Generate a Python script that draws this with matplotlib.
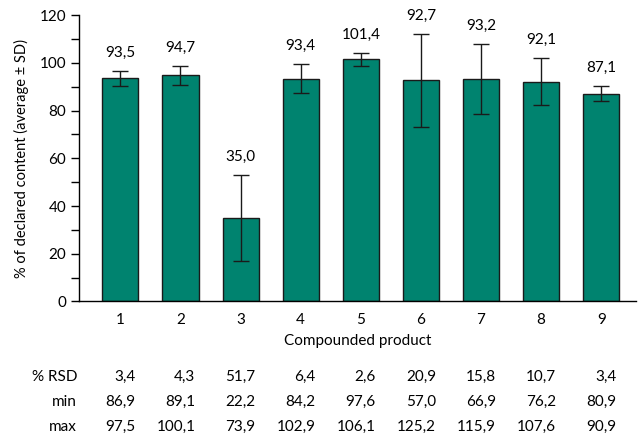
import numpy as np
import matplotlib
matplotlib.use("Agg")
import matplotlib.pyplot as plt
from matplotlib.ticker import MultipleLocator
from matplotlib.transforms import blended_transform_factory

plt.rcParams["font.family"] = ["Lato", "DejaVu Sans"]

# ---- data ----
products = ["1", "2", "3", "4", "5", "6", "7", "8", "9"]
mean = [93.5, 94.7, 35.0, 93.4, 101.4, 92.7, 93.2, 92.1, 87.1]
sd = [3.2, 4.1, 18.1, 6.0, 2.6, 19.4, 14.7, 9.9, 3.0]
rsd_labels = ["3,4", "4,3", "51,7", "6,4", "2,6", "20,9", "15,8", "10,7", "3,4"]
min_labels = ["86,9", "89,1", "22,2", "84,2", "97,6", "57,0", "66,9", "76,2", "80,9"]
max_labels = ["97,5", "100,1", "73,9", "102,9", "106,1", "125,2", "115,9", "107,6", "90,9"]
row_names = ["% RSD", "min", "max"]

BAR = "#00836f"
FS = 11

fig = plt.figure(figsize=(6.38, 4.44), dpi=100)
ax = fig.add_axes([0.1246, 0.321, 0.8724, 0.645])

x = np.arange(1, len(products) + 1)
ax.bar(x, mean, width=0.6, color=BAR, edgecolor="#1a1a1a", linewidth=1.0, zorder=2)
ax.errorbar(x, mean, yerr=sd, fmt="none", ecolor="#1a1a1a", elinewidth=1.0,
            capsize=6, capthick=1.0, zorder=3)

for xi, m, s in zip(x, mean, sd):
    ax.annotate(f"{m:.1f}".replace(".", ","), (xi, m + s), xytext=(0, 8),
                textcoords="offset points", ha="center", va="bottom", fontsize=FS)

ax.set_xlim(0.32, 9.58)
ax.set_ylim(0, 120)
ax.yaxis.set_major_locator(MultipleLocator(20))
ax.yaxis.set_minor_locator(MultipleLocator(10))
ax.tick_params(axis="y", which="both", direction="out", length=6, width=1, labelsize=FS)
ax.set_xticks(x)
ax.set_xticklabels(products)
ax.tick_params(axis="x", length=0, pad=8, labelsize=FS)
for sp in ["top", "right"]:
    ax.spines[sp].set_visible(False)
ax.spines["left"].set_linewidth(1)
ax.spines["bottom"].set_linewidth(1)

ax.set_xlabel("Compounded product", fontsize=FS, labelpad=5)
ax.set_ylabel("% of declared content (average ± SD)", fontsize=10.5, labelpad=8)

# table of stats under the chart
tr = blended_transform_factory(ax.transData, fig.transFigure)
row_y = [0.151, 0.0946, 0.038]
for name, vals, yy in zip(row_names, [rsd_labels, min_labels, max_labels], row_y):
    fig.text(0.1207, yy, name, ha="right", va="center", fontsize=FS)
    for xi, v in zip(x, vals):
        fig.text(xi + 0.25, yy, v, ha="right", va="center", fontsize=FS, transform=tr)

fig.savefig("out.png", dpi=100)
